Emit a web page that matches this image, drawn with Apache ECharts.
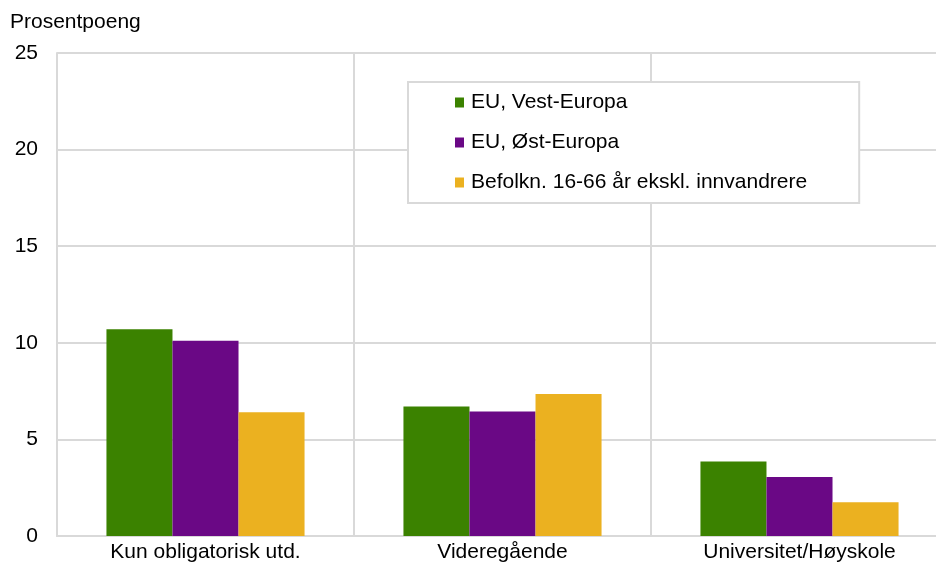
<!DOCTYPE html>
<html>
<head>
<meta charset="utf-8">
<script src="https://cdn.jsdelivr.net/npm/echarts@6/dist/echarts.min.js"></script>
<style>
  html, body { margin: 0; padding: 0; background: #fff; }
  #chart { width: 936px; height: 563px; }
</style>
</head>
<body>
<div id="chart"></div>
<script>
var categories = ['Kun obligatorisk utd.', 'Videregående', 'Universitet/Høyskole'];
var seriesNames = ['EU, Vest-Europa', 'EU, Øst-Europa', 'Befolkn. 16-66 år ekskl. innvandrere'];
var vestEuropa = [10.7, 6.7, 3.85];
var ostEuropa = [10.1, 6.45, 3.05];
var befolkning = [6.4, 7.35, 1.75];
var colors = ['#3b8200', '#6a0885', '#ebb120'];

var myChart = echarts.init(document.getElementById('chart'));
var font = 'Liberation Sans, Arial, sans-serif';

myChart.setOption({
    animation: false,
    color: colors,
    textStyle: { fontFamily: font },
    title: {
        text: 'Prosentpoeng',
        left: 5,
        top: 7,
        textStyle: { fontSize: 21, fontWeight: 'normal', color: '#000', fontFamily: font }
    },
    legend: {
        orient: 'vertical',
        left: 408,
        top: 82,
        data: seriesNames,
        icon: 'rect',
        itemWidth: 9,
        itemHeight: 10,
        itemGap: 19,
        padding: [10, 52, 10, 47],
        backgroundColor: '#fff',
        borderColor: '#d9d9d9',
        borderWidth: 2,
        textStyle: { fontSize: 21, color: '#000', lineHeight: 21, padding: [0, 0, 0, 2], fontFamily: font }
    },
    grid: {
        left: 57,
        width: 891,
        top: 53,
        bottom: 27,
        containLabel: false,
        outerBoundsMode: 'none'
    },
    xAxis: {
        type: 'category',
        data: categories,
        axisLine: { lineStyle: { color: '#d9d9d9', width: 2 } },
        axisTick: { show: false },
        axisLabel: { fontSize: 21, color: '#000', margin: 6, fontFamily: font },
        splitLine: { show: true, lineStyle: { color: '#d9d9d9', width: 2 } }
    },
    yAxis: {
        type: 'value',
        min: 0,
        max: 25,
        interval: 5,
        axisLine: { show: true, lineStyle: { color: '#d9d9d9', width: 2 } },
        axisTick: { show: false },
        axisLabel: { fontSize: 21, color: '#000', margin: 19, fontFamily: font },
        splitLine: { lineStyle: { color: '#d9d9d9', width: 2 } }
    },
    series: [
        { name: seriesNames[0], type: 'bar', data: vestEuropa, barGap: '0%', barCategoryGap: '33.3%' },
        { name: seriesNames[1], type: 'bar', data: ostEuropa, barGap: '0%', barCategoryGap: '33.3%' },
        { name: seriesNames[2], type: 'bar', data: befolkning, barGap: '0%', barCategoryGap: '33.3%' }
    ]
});
</script>
</body>
</html>
